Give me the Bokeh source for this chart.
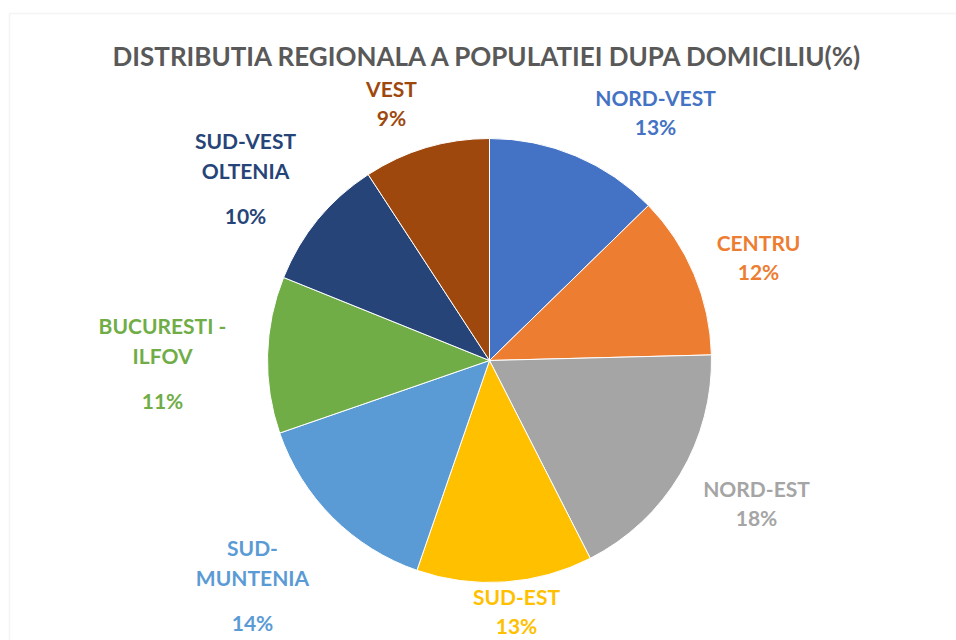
import math
from bokeh.plotting import figure
from bokeh.models import Range1d, ColumnDataSource, BoxAnnotation
from bokeh.core.properties import value
from bokeh.embed import file_html
from bokeh.resources import INLINE

# ---- data ----
title_text = "DISTRIBUTIA REGIONALA A POPULATIEI DUPA DOMICILIU(%)"
regions = ["NORD-VEST", "CENTRU", "NORD-EST", "SUD-EST", "SUD-MUNTENIA",
           "BUCURESTI - ILFOV", "SUD-VEST OLTENIA", "VEST"]
label_lines = [["NORD-VEST"], ["CENTRU"], ["NORD-EST"], ["SUD-EST"],
               ["SUD-", "MUNTENIA"], ["BUCURESTI -", "ILFOV"],
               ["SUD-VEST", "OLTENIA"], ["VEST"]]
shares = [12.7, 11.9, 17.9, 12.8, 14.4, 11.4, 9.7, 9.2]

# ---- styles / layout ----
colors = ["#4472C4", "#ED7D31", "#A5A5A5", "#FFC000", "#5B9BD5",
          "#70AD47", "#264478", "#9E480E"]
W, H = 956, 640
FONT = value("Lato")

def sx(x):  # screen px -> data x
    return x

def sy(y):  # screen px -> data y
    return H - y

cx, cy, R = 489, 360, 222
# label anchors (screen px): x centre, y of first line
label_pos = [(655, 97), (758, 242), (756, 488), (516, 596),
             (252, 547), (162, 325), (245, 140), (391, 88)]
LINE_GAP = 29
PCT_GAP_MULTI = 45

p = figure(width=W, height=H, x_range=Range1d(0, W), y_range=Range1d(0, H),
           output_backend="svg", toolbar_location=None, min_border=0)
p.axis.visible = False
p.grid.visible = False
p.outline_line_color = None
p.background_fill_color = "white"
p.border_fill_color = "white"

# chart frame
p.add_layout(BoxAnnotation(left=sx(9), right=sx(1200), top=sy(13), bottom=sy(900),
                           fill_alpha=0, line_color="#D9D9D9", line_width=1.5))

total = sum(shares)
starts, ends = [], []
cum = 0.0
for v in shares:
    starts.append(math.pi / 2 - 2 * math.pi * cum / total)
    cum += v
    ends.append(math.pi / 2 - 2 * math.pi * cum / total)

src = ColumnDataSource(dict(region=regions, share=shares, start=starts, end=ends, color=colors,
                            x=[sx(cx)] * len(shares), y=[sy(cy)] * len(shares)))
p.wedge(x="x", y="y", radius=R, radius_units="screen", start_angle="start", end_angle="end",
        direction="clock", fill_color="color", line_color="white", line_width=1, source=src)

# labels
tx, ty, tt, tc = [], [], [], []
for lines, v, col, (lx, ly) in zip(label_lines, shares, colors, label_pos):
    for i, ln in enumerate(lines):
        tx.append(sx(lx)); ty.append(sy(ly + i * 30)); tt.append(ln); tc.append(col)
    pct_y = ly + (LINE_GAP if len(lines) == 1 else 30 + PCT_GAP_MULTI)
    tx.append(sx(lx)); ty.append(sy(pct_y)); tt.append(f"{round(v)}%"); tc.append(col)

p.text(x=tx, y=ty, text=tt, text_color=tc, text_font=FONT, text_font_style="bold",
       text_font_size="21px", text_align="center", text_baseline="middle")

p.text(x=[sx(488)], y=[sy(55)], text=[title_text], text_color="#595959", text_font=FONT,
       text_font_style="bold", text_font_size="26px", text_align="center", text_baseline="middle")

open("out.html", "w").write(file_html(p, INLINE))
